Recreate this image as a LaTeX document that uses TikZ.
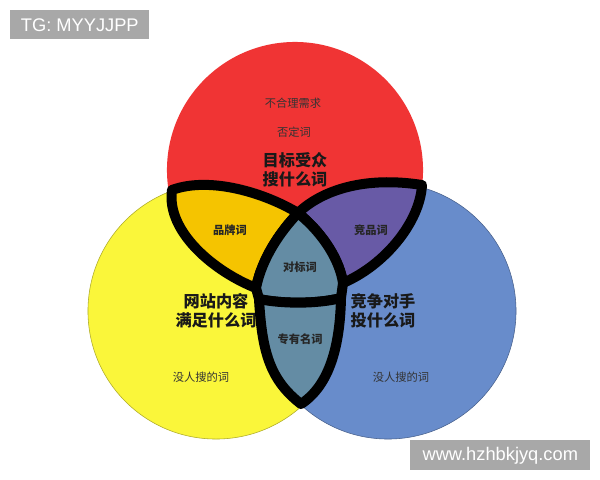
\documentclass[tikz,border=0pt]{standalone}
\usepackage{fontspec}
\setmainfont{Noto Sans CJK SC}
\newfontfamily\latinfont{Liberation Sans}
\usepackage{tikz}
\usetikzlibrary{positioning}

\definecolor{vred}{RGB}{240,52,52}
\definecolor{vyellow}{RGB}{250,246,58}
\definecolor{vblue}{RGB}{104,140,203}
\definecolor{vorange}{RGB}{245,196,0}
\definecolor{vpurple}{RGB}{104,90,166}
\definecolor{vsteel}{RGB}{100,140,164}
\definecolor{tagbg}{RGB}{168,168,168}

\begin{document}
\begin{tikzpicture}[x=0.025cm, y=-0.025cm,
    small/.style={text=black!80, font=\fontsize{8}{9}\selectfont},
    lobe/.style={text=black!85, font=\fontsize{8}{9}\selectfont\bfseries},
    big/.style={text=black!90, align=center, font=\fontsize{11.5}{13.5}\selectfont\bfseries},
    tag/.style={fill=tagbg, text=white, inner sep=0pt, font=\latinfont\fontsize{13}{15}\selectfont},
    outline/.style={draw=black, line width=0.25cm, line join=round}]
    \useasboundingbox[fill=white] (0,0) rectangle (600,480);

    % circles
    \fill[vred] (295,170) circle[radius=3.2cm];
    \filldraw[fill=vyellow, draw=vyellow!70!black, line width=0.4pt] (216,311) circle[radius=3.2cm];
    \filldraw[fill=vblue, draw=vblue!70!black, line width=0.4pt] (388,311) circle[radius=3.2cm];

    % big labels
    \node[big] (aud) at (295,170) {目标受众\\搜什么词};
    \node[big] (site) at (216,311) {网站内容\\满足什么词};
    \node[big] (comp) at (383,311) {竞争对手\\投什么词};

    % corners of the outline
    \coordinate (L) at (172,190);
    \coordinate (T) at (298,213);
    \coordinate (R) at (422,185);
    \coordinate (Q) at (256,288);
    \coordinate (P) at (343,283);
    \coordinate (BL) at (259,299);
    \coordinate (BR) at (341,298);
    \coordinate (B) at (301,404);

    % lobes
    \path[outline, fill=vorange] (L) .. controls (210,176) and (265,193) .. (T)
        .. controls (280,232) and (262,258) .. (Q)
        .. controls (215,272) and (166,232) .. (L) -- cycle;
    \path[outline, fill=vpurple] (T) .. controls (322,190) and (365,176) .. (R)
        .. controls (420,222) and (385,265) .. (P)
        .. controls (340,262) and (325,235) .. (T) -- cycle;
    \path[outline, fill=vsteel] (T) .. controls (325,235) and (340,262) .. (P) -- (BR)
        .. controls (318,304) and (282,304) .. (BL) -- (Q)
        .. controls (262,258) and (280,232) .. (T) -- cycle;
    \path[outline, fill=vsteel] (BR) .. controls (318,304) and (282,304) .. (BL)
        .. controls (262,352) and (270,380) .. (B)
        .. controls (330,385) and (340,345) .. (BR) -- cycle;

    % small labels
    \node[small] (need) at (293,103) {不合理需求};
    \node[small] (neg) at (294,132) {否定词};
    \node[lobe] (brand) at (230,230) {品牌词};
    \node[lobe] (rival) at (371,230) {竞品词};
    \node[lobe] (bench) at (300,267) {对标词};
    \node[lobe] (proper) at (300,339) {专有名词};
    \node[small] (noneL) at (201,377) {没人搜的词};
    \node[small] (noneR) at (401,377) {没人搜的词};

    % watermarks
    \node[tag, minimum width=139*0.025cm, minimum height=29*0.025cm, anchor=north west] (tg) at (10,10) {TG: MYYJJPP};
    \node[tag, minimum width=180*0.025cm, minimum height=30*0.025cm, anchor=north west] (web) at (410,440) {www.hzhbkjyq.com};
\end{tikzpicture}
\end{document}
